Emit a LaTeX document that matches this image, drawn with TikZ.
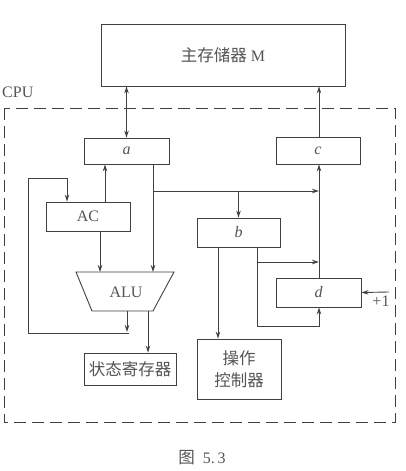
\documentclass[tikz,border=0pt]{standalone}
\usepackage{fontspec}
\setmainfont{Liberation Serif}
\newfontfamily\cjk{Noto Sans CJK SC}
\usetikzlibrary{arrows.meta}
\definecolor{ln}{gray}{0.25}
\definecolor{tx}{gray}{0.33}
\tikzset{
  box/.style={draw=ln, line width=0.9pt, inner sep=0pt, text=tx, font=\fontsize{16}{19}\selectfont},
  lbl/.style={inner sep=0pt, text=tx, font=\fontsize{16}{19}\selectfont},
  conn/.style={draw=ln, line width=0.9pt},
  arr/.style={conn, -{Stealth[length=7pt,width=4.5pt]}},
  darr/.style={conn, {Stealth[length=7pt,width=4.5pt]}-{Stealth[length=7pt,width=4.5pt]}},
}
\begin{document}
\begin{tikzpicture}[x=1pt,y=-1pt]
\useasboundingbox (0,0) rectangle (406,471);
% boxes
\node[box, minimum width=244pt, minimum height=62pt] (mem) at (223,55) {{\cjk\fontsize{16.5}{19}\selectfont 主存储器} M};
\node[lbl, anchor=west] (cpu) at (2,92) {CPU};
\draw[ln, line width=0.9pt, dash pattern=on 12pt off 6pt] (4,108) rectangle (395,422);
\node[box, minimum width=85pt, minimum height=26pt] (a) at (126.5,151) {\itshape a};
\node[box, minimum width=84pt, minimum height=27pt] (c) at (318,150.5) {\itshape c};
\node[box, minimum width=84pt, minimum height=29pt] (AC) at (88,216.5) {AC};
\node[box, minimum width=83pt, minimum height=29pt] (b) at (238.5,232.5) {\itshape b};
\node[box, minimum width=85pt, minimum height=29pt] (d) at (318.5,292.5) {\itshape d};
\node[box, minimum width=92pt, minimum height=32pt, font=\cjk\fontsize{16.5}{19}\selectfont] (sr) at (130,369) {状态寄存器};
\node[box, minimum width=84pt, minimum height=60pt, align=center, font=\cjk\fontsize{16.5}{22}\selectfont] (ctl) at (239,369) {操作\\控制器};
% ALU trapezoid
\coordinate (alutl) at (76,272);
\coordinate (alutr) at (174,272);
\coordinate (alubr) at (153,311);
\coordinate (alubl) at (92,311);
\draw[conn] (alutl) -- (alutr) -- (alubr) -- (alubl) -- cycle;
\node[lbl] (alu) at (126,292) {ALU};
% connectors
\draw[darr] (a.north) -- (a.north |- mem.south);
\draw[arr] (319,0 |- c.north) -- (319,0 |- mem.south);
\draw[arr] (105,0 |- AC.north) -- (105,0 |- a.south);
\draw[arr] (100,0 |- AC.south) -- (100,0 |- alutl);
\draw[arr] (153,0 |- a.south) -- (153,0 |- alutl);
\draw[arr] (153,191) -- (319,191);
\draw[arr] (238.5,191) -- (b.north);
\draw[arr] (319,0 |- d.north) -- (319,0 |- c.south);
\draw[arr] (218,0 |- b.south) -- (218,0 |- ctl.north);
\draw[arr] (257,0 |- b.south) -- (257,326) -- (319,326) -- (319,0 |- d.south);
\draw[arr] (257,262) -- (319,262);
\coordinate (plusin) at (389,292);
\draw[arr] (plusin) -- (d.east);
\node[lbl] (plus) at (381,301) {+1};
\draw[arr] (127,0 |- alubl) -- (127,332);
\draw[arr] (129,333) -- (28,333) -- (28,178) -- (67,178) -- (67,0 |- AC.north);
\draw[arr] (148,0 |- alubl) -- (148,0 |- sr.north);
% caption
\node[lbl] (cap) at (202,458) {{\cjk\fontsize{16.5}{19}\selectfont 图}\ \ 5.\,3};
\end{tikzpicture}
\end{document}
